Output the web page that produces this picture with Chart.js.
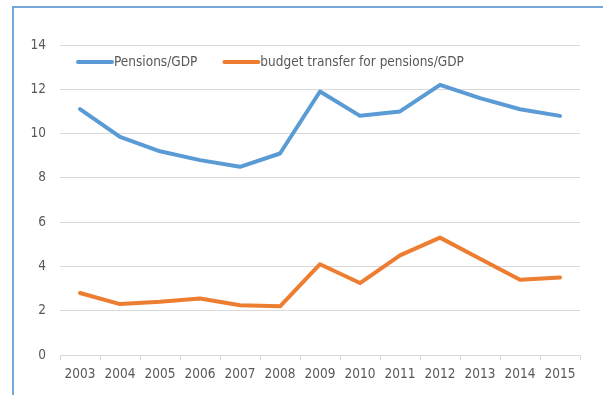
<!DOCTYPE html>
<html>
<head>
<meta charset="utf-8">
<script src="https://cdn.jsdelivr.net/npm/chart.js@4/dist/chart.umd.min.js"></script>
<style>
  html, body { margin: 0; padding: 0; background: #fff; }
  #wrap { position: relative; width: 603px; height: 395px; }
  #frame {
    position: absolute; left: 12px; top: 6px; right: 0; bottom: 0;
    border-top: 2px solid #74a8dc; border-left: 2px solid #74a8dc;
  }
  canvas { position: absolute; left: 0; top: 0; }
</style>
</head>
<body>
<div id="wrap">
  <div id="frame"></div>
  <canvas id="chart" width="603" height="395"></canvas>
</div>
<script>
const years = ['2003', '2004', '2005', '2006', '2007', '2008', '2009', '2010', '2011', '2012', '2013', '2014', '2015'];
const pensionsGdp = [11.1, 9.85, 9.2, 8.8, 8.5, 9.1, 11.9, 10.8, 11.0, 12.2, 11.6, 11.1, 10.8];
const budgetTransfer = [2.8, 2.3, 2.4, 2.55, 2.25, 2.2, 4.1, 3.25, 4.5, 5.3, 4.35, 3.4, 3.5];
const yTicks = [0, 2, 4, 6, 8, 10, 12, 14];

const FONT = "'DejaVu Sans Condensed', 'Liberation Sans', sans-serif";
const FONT_SIZE = 13.5;
const GREY = '#595959';

// legend drawn inside the plot, between the 14 and 12 gridlines
const innerLegend = {
  id: 'innerLegend',
  afterDraw(chart) {
    const ctx = chart.ctx;
    const area = chart.chartArea;
    let x = area.left + 18;
    const y = area.top + 17;
    ctx.save();
    ctx.font = FONT_SIZE + 'px ' + FONT;
    ctx.textBaseline = 'middle';
    chart.data.datasets.forEach(ds => {
      ctx.strokeStyle = ds.borderColor;
      ctx.lineWidth = 4;
      ctx.lineCap = 'round';
      ctx.beginPath();
      ctx.moveTo(x, y);
      ctx.lineTo(x + 34, y);
      ctx.stroke();
      ctx.fillStyle = GREY;
      ctx.fillText(ds.label, x + 36, y);
      x += 36 + ctx.measureText(ds.label).width + 27;
    });
    ctx.restore();
  }
};

new Chart(document.getElementById('chart'), {
  type: 'line',
  data: {
    labels: years,
    datasets: [
      {
        label: 'Pensions/GDP',
        data: pensionsGdp,
        borderColor: '#5B9BD5',
        borderWidth: 4,
        pointRadius: 0,
        tension: 0,
        borderJoinStyle: 'round',
        borderCapStyle: 'round'
      },
      {
        label: 'budget transfer for pensions/GDP',
        data: budgetTransfer,
        borderColor: '#ED7D31',
        borderWidth: 4,
        pointRadius: 0,
        tension: 0,
        borderJoinStyle: 'round',
        borderCapStyle: 'round'
      }
    ]
  },
  options: {
    responsive: false,
    animation: false,
    layout: { padding: { left: 0, right: 23, top: 45, bottom: 0 } },
    plugins: {
      legend: { display: false },
      tooltip: { enabled: false }
    },
    scales: {
      x: {
        offset: true,
        grid: {
          offset: true,
          drawOnChartArea: false,
          drawTicks: true,
          tickLength: 5,
          color: '#d9d9d9'
        },
        border: { color: '#d9d9d9' },
        ticks: {
          color: GREY,
          font: { family: FONT, size: FONT_SIZE },
          padding: 6,
          maxRotation: 0,
          autoSkip: false
        },
        afterFit(scale) { scale.height = 40; }
      },
      y: {
        min: 0,
        max: 14,
        afterBuildTicks(scale) { scale.ticks = yTicks.map(v => ({ value: v })); },
        grid: { color: '#d9d9d9', drawTicks: false },
        border: { display: false },
        ticks: {
          color: GREY,
          font: { family: FONT, size: FONT_SIZE },
          padding: 14
        },
        afterFit(scale) { scale.width = 60; }
      }
    }
  },
  plugins: [innerLegend]
});
</script>
</body>
</html>
